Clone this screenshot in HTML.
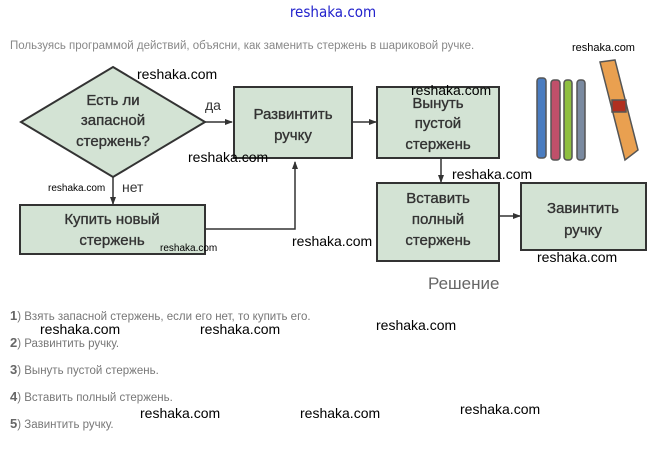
<!DOCTYPE html>
<html><head><meta charset="utf-8"><style>
html,body{margin:0;padding:0;background:#fff;}
svg{display:block;}
text{font-family:"Liberation Sans","DejaVu Sans",sans-serif;}
.b{fill:#d3e3d4;stroke:#333;stroke-width:2;}
.t{font-size:15px;fill:#333;text-anchor:middle;stroke:#333;stroke-width:0.35;}
.w{font-size:14px;fill:#000;}
.l{font-size:11.5px;fill:#777;}
.n{font-size:13px;fill:#666;font-weight:bold;}
</style></head><body>
<svg width="663" height="449" viewBox="0 0 663 449" xmlns="http://www.w3.org/2000/svg">
<defs><marker id="a" markerWidth="8" markerHeight="8" refX="7" refY="4" orient="auto" markerUnits="userSpaceOnUse"><path d="M0,1 L8,4 L0,7 z" fill="#333"/></marker></defs>
<text x="333" y="17" font-size="15" fill="#2222cc" text-anchor="middle" style="font-family:'DejaVu Sans Condensed','Liberation Sans',sans-serif">reshaka.com</text>
<text x="10" y="49" font-size="11.5" fill="#888">Пользуясь программой действий, объясни, как заменить стержень в шариковой ручке.</text>
<text x="572" y="51" font-size="11" fill="#000">reshaka.com</text>
<g stroke="#555" stroke-width="1.5">
<rect x="537" y="78" width="9" height="80" fill="#4a7cc0" rx="3"/>
<rect x="551" y="80" width="9" height="80" fill="#c0506a" rx="3"/>
<rect x="564" y="80" width="8" height="80" fill="#8fbf40" rx="3"/>
<rect x="577" y="80" width="8" height="80" fill="#7a8aa0" rx="3"/>
<path d="M600,62 L615,60 L638,150 L625,160 Z" fill="#e9a050"/>
<rect x="612" y="100" width="14" height="12" fill="#b03020"/>
</g>
<polygon class="b" points="113,67 205,122 113,177 21,122"/>
<text class="t" x="113" y="105">Есть ли</text>
<text class="t" x="113" y="125">запасной</text>
<text class="t" x="113" y="146">стержень?</text>
<line x1="205" y1="122" x2="232" y2="122" stroke="#333" stroke-width="1.5" marker-end="url(#a)"/>
<text x="205" y="110" font-size="14" fill="#333">да</text>
<line x1="113" y1="177" x2="113" y2="204" stroke="#333" stroke-width="1.5" marker-end="url(#a)"/>
<text x="122" y="192" font-size="14" fill="#333">нет</text>
<rect class="b" x="20" y="205" width="185" height="49"/>
<text class="t" x="112" y="224">Купить новый</text>
<text class="t" x="112" y="245">стержень</text>
<polyline points="205,229 295,229 295,162" fill="none" stroke="#333" stroke-width="1.5" marker-end="url(#a)"/>
<rect class="b" x="234" y="87" width="118" height="71"/>
<text class="t" x="293" y="119">Развинтить</text>
<text class="t" x="293" y="140">ручку</text>
<line x1="352" y1="122" x2="376" y2="122" stroke="#333" stroke-width="1.5" marker-end="url(#a)"/>
<rect class="b" x="377" y="87" width="122" height="71"/>
<text class="t" x="438" y="108">Вынуть</text>
<text class="t" x="438" y="128">пустой</text>
<text class="t" x="438" y="149">стержень</text>
<line x1="441" y1="158" x2="441" y2="182" stroke="#333" stroke-width="1.5" marker-end="url(#a)"/>
<rect class="b" x="377" y="183" width="122" height="78"/>
<text class="t" x="438" y="203">Вставить</text>
<text class="t" x="438" y="224">полный</text>
<text class="t" x="438" y="245">стержень</text>
<line x1="499" y1="216" x2="520" y2="216" stroke="#333" stroke-width="1.5" marker-end="url(#a)"/>
<rect class="b" x="521" y="183" width="125" height="67"/>
<text class="t" x="583" y="213">Завинтить</text>
<text class="t" x="583" y="235">ручку</text>
<text class="w" x="137" y="79">reshaka.com</text>
<text class="w" x="411" y="95">reshaka.com</text>
<text class="w" x="188" y="162">reshaka.com</text>
<text class="w" x="452" y="179">reshaka.com</text>
<text x="48" y="191" font-size="10" fill="#000">reshaka.com</text>
<text x="160" y="251" font-size="10" fill="#000">reshaka.com</text>
<text class="w" x="292" y="246">reshaka.com</text>
<text class="w" x="537" y="262">reshaka.com</text>
<text x="428" y="289" font-size="17" fill="#666">Решение</text>
<text x="10" y="320"><tspan class="n">1</tspan><tspan class="l">) Взять запасной стержень, если его нет, то купить его.</tspan></text>
<text x="10" y="347"><tspan class="n">2</tspan><tspan class="l">) Развинтить ручку.</tspan></text>
<text x="10" y="374"><tspan class="n">3</tspan><tspan class="l">) Вынуть пустой стержень.</tspan></text>
<text x="10" y="401"><tspan class="n">4</tspan><tspan class="l">) Вставить полный стержень.</tspan></text>
<text x="10" y="428"><tspan class="n">5</tspan><tspan class="l">) Завинтить ручку.</tspan></text>
<text class="w" x="40" y="334">reshaka.com</text>
<text class="w" x="200" y="334">reshaka.com</text>
<text class="w" x="376" y="330">reshaka.com</text>
<text class="w" x="140" y="418">reshaka.com</text>
<text class="w" x="300" y="418">reshaka.com</text>
<text class="w" x="460" y="414">reshaka.com</text>
</svg>
</body></html>
